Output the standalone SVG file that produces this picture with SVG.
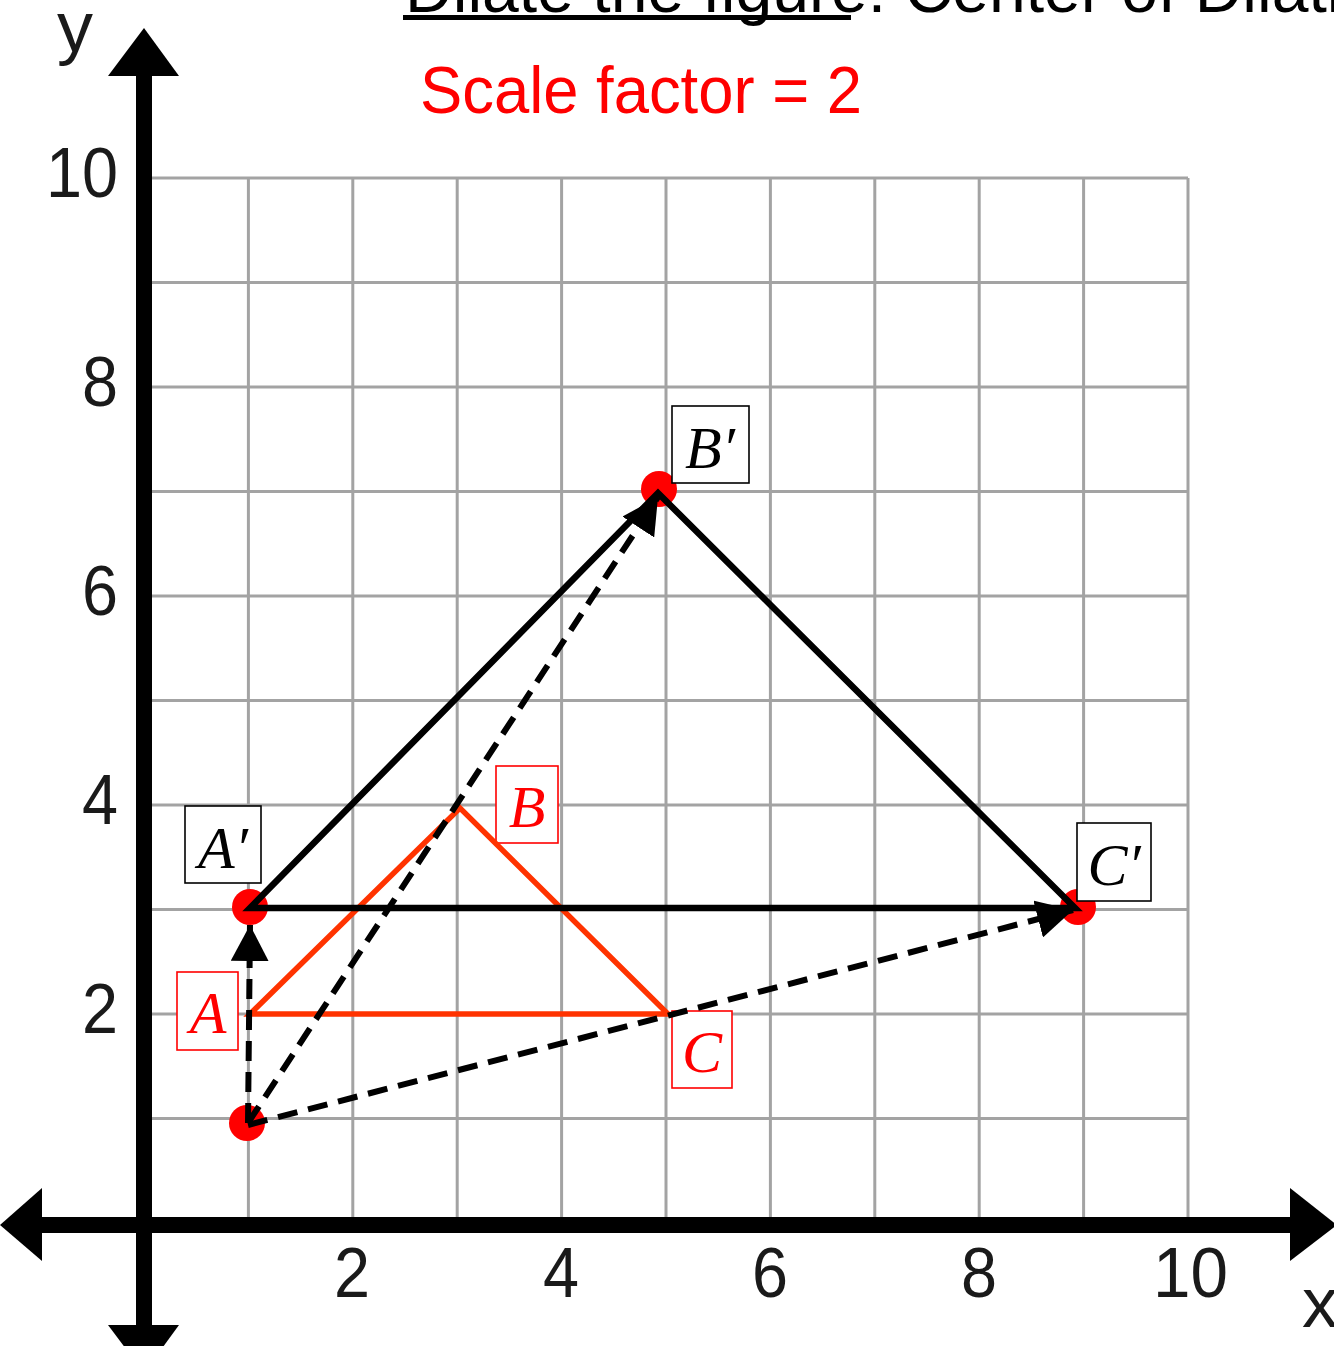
<svg xmlns="http://www.w3.org/2000/svg" width="1334" height="1346" viewBox="0 0 1334 1346">
<defs>
<style>
.grid{stroke:#a3a3a3;stroke-width:3;fill:none}
.axis{stroke:#000;stroke-width:16;fill:none}
.tick{font-family:"Liberation Sans",Arial,sans-serif;font-size:70px;fill:#1a1a1a}
.lblbox{fill:#fff;stroke:#000;stroke-width:1.6}
.lblboxr{fill:#fff;stroke:#f00;stroke-width:1.6}
.lbl{font-family:"Liberation Serif","DejaVu Serif",serif;font-style:italic;font-size:60px;fill:#000;text-anchor:middle}
.lblr{font-family:"Liberation Serif","DejaVu Serif",serif;font-style:italic;font-size:60px;fill:#f00;text-anchor:middle}
.dot{fill:#f00}
.dash{stroke:#000;stroke-width:6;stroke-dasharray:20 11;fill:none}
</style>
<marker id="ah" markerUnits="userSpaceOnUse" markerWidth="36" markerHeight="38" refX="36" refY="19" orient="auto" viewBox="0 0 36 38">
<path d="M0,0 L36,19 L0,38 z" fill="#000"/>
</marker>
</defs>
<rect width="1334" height="1346" fill="#fff"/>

<g id="title">
<text x="405" y="12" font-family="'Liberation Sans',Arial,sans-serif" font-size="66" fill="#000" textLength="1010" lengthAdjust="spacingAndGlyphs">Dilate the figure: Center of Dilation</text>
<rect x="403" y="15" width="448" height="5" fill="#000"/>
<text x="420" y="113" font-family="'Liberation Sans',Arial,sans-serif" font-size="66" fill="#f00" textLength="442" lengthAdjust="spacingAndGlyphs">Scale factor = 2</text>
</g>

<g id="grid" class="grid">
<path d="M248.4,178V1223M352.8,178V1223M457.2,178V1223M561.6,178V1223M666,178V1223M770.4,178V1223M874.8,178V1223M979.2,178V1223M1083.6,178V1223M1188,178V1223"/>
<path d="M144,178H1188M144,282.5H1188M144,387H1188M144,491.5H1188M144,596H1188M144,700.5H1188M144,805H1188M144,909.5H1188M144,1014H1188M144,1118.5H1188"/>
</g>

<g id="axes">
<line class="axis" x1="144" y1="70" x2="144" y2="1330"/>
<line class="axis" x1="38" y1="1225" x2="1295" y2="1225"/>
<polygon points="144,28 108,76 179,76" fill="#000"/>
<polygon points="144,1373 108,1325 179,1325" fill="#000"/>
<polygon points="0,1225 42,1188 42,1261" fill="#000"/>
<polygon points="1337,1225 1290,1188 1290,1261" fill="#000"/>
<text x="57" y="51" class="tick" textLength="36" lengthAdjust="spacingAndGlyphs">y</text>
<text x="1302" y="1327" class="tick" textLength="36" lengthAdjust="spacingAndGlyphs">x</text>
</g>

<g id="ticks" class="tick">
<text x="46" y="197" textLength="72" lengthAdjust="spacingAndGlyphs">10</text>
<text x="82" y="406" textLength="36" lengthAdjust="spacingAndGlyphs">8</text>
<text x="82" y="615" textLength="36" lengthAdjust="spacingAndGlyphs">6</text>
<text x="82" y="824" textLength="36" lengthAdjust="spacingAndGlyphs">4</text>
<text x="82" y="1033" textLength="36" lengthAdjust="spacingAndGlyphs">2</text>
<text x="334" y="1297" textLength="36" lengthAdjust="spacingAndGlyphs">2</text>
<text x="543" y="1297" textLength="36" lengthAdjust="spacingAndGlyphs">4</text>
<text x="752" y="1297" textLength="36" lengthAdjust="spacingAndGlyphs">6</text>
<text x="961" y="1297" textLength="36" lengthAdjust="spacingAndGlyphs">8</text>
<text x="1153" y="1297" textLength="75" lengthAdjust="spacingAndGlyphs">10</text>
</g>

<g id="node-O"><circle class="dot" cx="247" cy="1123" r="18"/></g>
<g id="node-A1"><circle class="dot" cx="250" cy="907" r="18"/><rect class="lblbox" x="185" y="806" width="76" height="77"/><text class="lbl" x="223" y="868">A′</text></g>
<g id="node-B1"><circle class="dot" cx="659" cy="489" r="18"/><rect class="lblbox" x="672" y="406" width="77" height="77"/><text class="lbl" x="710" y="468">B′</text></g>
<g id="node-C1"><circle class="dot" cx="1078" cy="907" r="18"/><rect class="lblbox" x="1077" y="823" width="74" height="78"/><text class="lbl" x="1114" y="885">C′</text></g>
<g id="node-A"><rect class="lblboxr" x="177" y="972" width="61" height="78"/><text class="lblr" x="208" y="1033">A</text></g>
<g id="node-B"><rect class="lblboxr" x="496" y="766" width="62" height="77"/><text class="lblr" x="527" y="827">B</text></g>
<g id="node-C"><rect class="lblboxr" x="672" y="1011" width="60" height="77"/><text class="lblr" x="702" y="1072">C</text></g>

<g id="triangle-ABC">
<polygon points="250,1014 460,808 668,1014" fill="none" stroke="#ff3300" stroke-width="5.5"/>
</g>
<g id="triangle-A1B1C1">
<polygon points="250,908 658,493 1075,908" fill="none" stroke="#000" stroke-width="6.5"/>
</g>

<g id="connectors">
<line class="dash" x1="248" y1="1123" x2="250" y2="925" marker-end="url(#ah)"/>
<line class="dash" x1="248" y1="1123" x2="658" y2="497" marker-end="url(#ah)"/>
<line class="dash" x1="248" y1="1125" x2="1073" y2="910" marker-end="url(#ah)"/>
</g>
</svg>
